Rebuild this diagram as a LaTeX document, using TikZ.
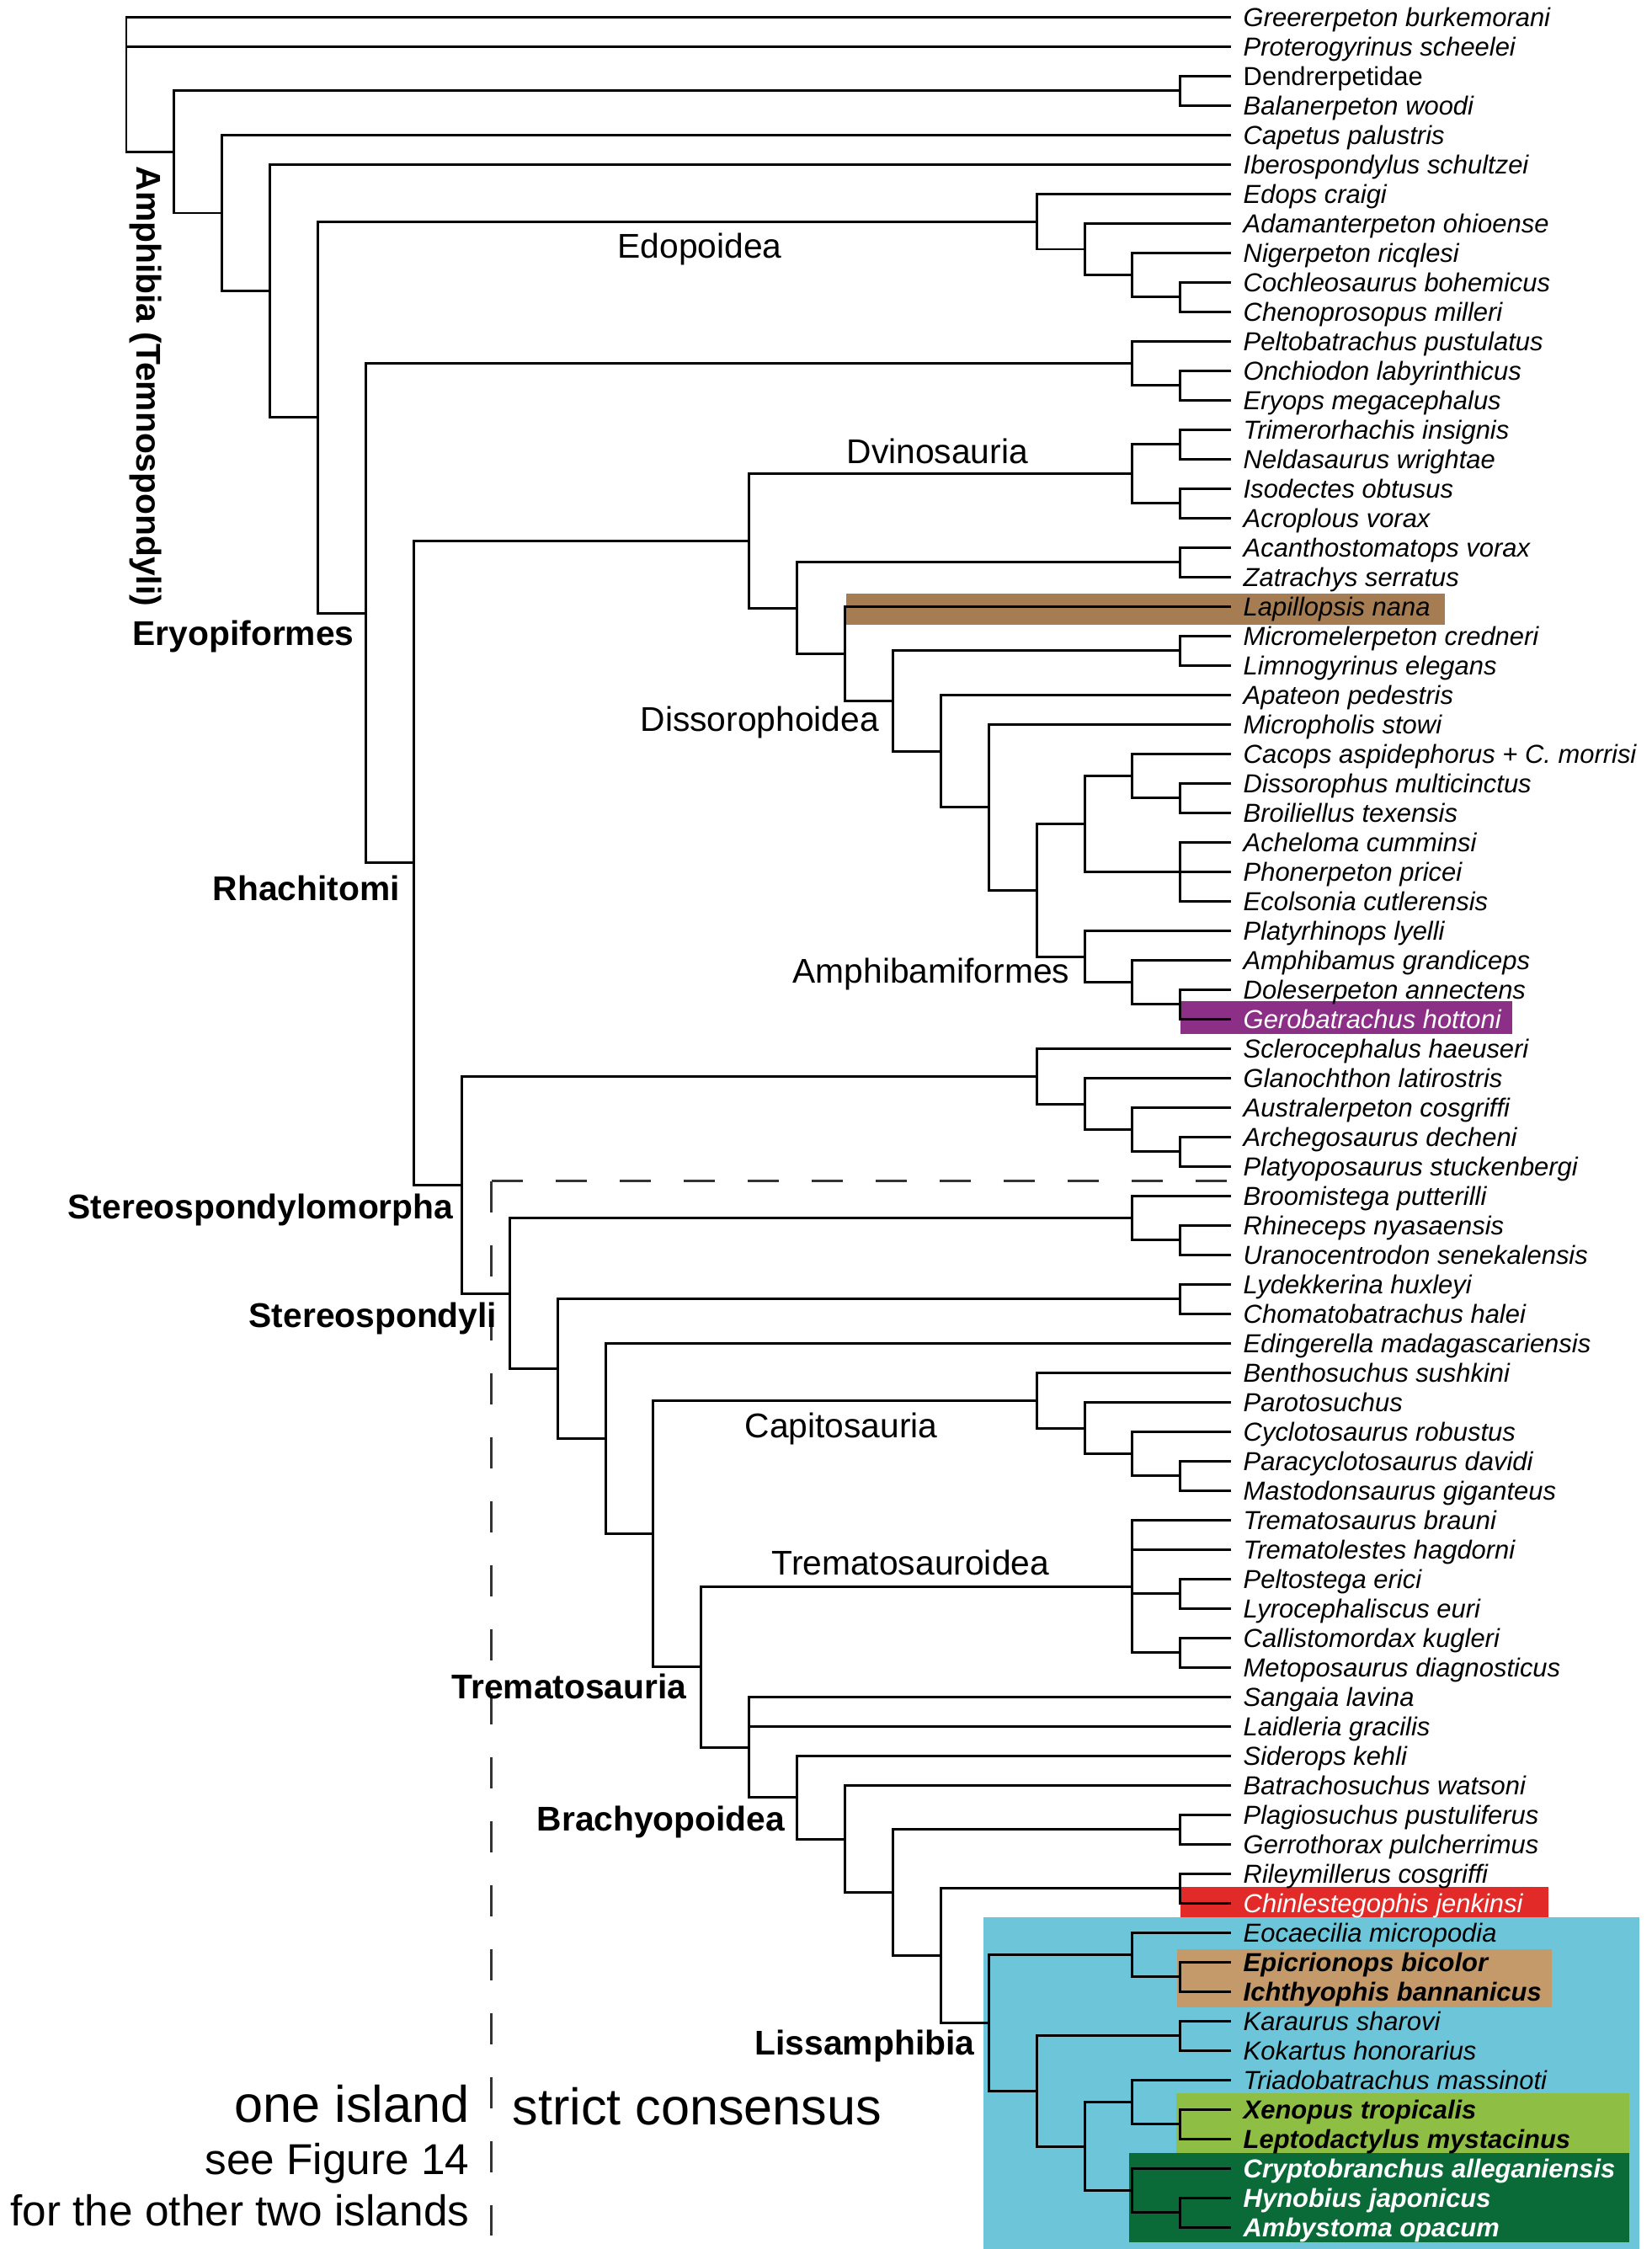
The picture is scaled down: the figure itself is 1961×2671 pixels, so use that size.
\documentclass[tikz,border=0pt]{standalone}
\usepackage{fontspec}
\setmainfont{Liberation Sans}
\definecolor{cbrown}{HTML}{A67C52}
\definecolor{cpurple}{HTML}{8C2F86}
\definecolor{cred}{HTML}{E22B28}
\definecolor{ccyan}{HTML}{6CC5D8}
\definecolor{ctan}{HTML}{C49A6B}
\definecolor{clgreen}{HTML}{8FBE44}
\definecolor{cdgreen}{HTML}{0A6B39}
\newcommand\taxon[3]{\node[leaf,#2] (l#1) at (1460,{20.4+35*(#1-1)}) {#3};}
\begin{document}
\begin{tikzpicture}[x=0.1mm,y=-0.1mm,
  br/.style={line width=0.85pt,line cap=rect},
  leaf/.style={anchor=west,inner xsep=1.6mm,inner ysep=0pt,text height=6.3pt,text depth=0pt,font=\fontsize{8.8}{10}\selectfont\itshape},
  up/.style={font=\fontsize{8.8}{10}\selectfont},
  bi/.style={font=\fontsize{8.8}{10}\selectfont\bfseries\itshape},
  clade/.style={inner sep=0pt,font=\fontsize{11.6}{13}\selectfont},
  cladeb/.style={inner sep=0pt,font=\fontsize{11.6}{13}\selectfont\bfseries},
  dsh/.style={line width=0.85pt,black!80,dash pattern=on 3.7mm off 3.9mm},
  big/.style={inner sep=0pt,font=\fontsize{17.4}{20}\selectfont},
  mid/.style={inner sep=0pt,font=\fontsize{14.6}{17}\selectfont}]
\useasboundingbox (0,0) rectangle (1961,2671);
% highlight boxes
\fill[cbrown] (1005,705) rectangle (1716,742);
\fill[cpurple] (1402,1189) rectangle (1796,1228);
\fill[cred] (1402,2241) rectangle (1839,2277);
\fill[ccyan] (1168,2277) rectangle (1947,2671);
\fill[ctan] (1398,2315) rectangle (1843,2384);
\fill[clgreen] (1397,2486) rectangle (1935,2557);
\fill[cdgreen] (1341,2557) rectangle (1935,2663);
% leaves
\taxon{1}{}{Greererpeton burkemorani}
\taxon{2}{}{Proterogyrinus scheelei}
\taxon{3}{up}{Dendrerpetidae}
\taxon{4}{}{Balanerpeton woodi}
\taxon{5}{}{Capetus palustris}
\taxon{6}{}{Iberospondylus schultzei}
\taxon{7}{}{Edops craigi}
\taxon{8}{}{Adamanterpeton ohioense}
\taxon{9}{}{Nigerpeton ricqlesi}
\taxon{10}{}{Cochleosaurus bohemicus}
\taxon{11}{}{Chenoprosopus milleri}
\taxon{12}{}{Peltobatrachus pustulatus}
\taxon{13}{}{Onchiodon labyrinthicus}
\taxon{14}{}{Eryops megacephalus}
\taxon{15}{}{Trimerorhachis insignis}
\taxon{16}{}{Neldasaurus wrightae}
\taxon{17}{}{Isodectes obtusus}
\taxon{18}{}{Acroplous vorax}
\taxon{19}{}{Acanthostomatops vorax}
\taxon{20}{}{Zatrachys serratus}
\taxon{21}{}{Lapillopsis nana}
\taxon{22}{}{Micromelerpeton credneri}
\taxon{23}{}{Limnogyrinus elegans}
\taxon{24}{}{Apateon pedestris}
\taxon{25}{}{Micropholis stowi}
\taxon{26}{}{Cacops aspidephorus + C. morrisi}
\taxon{27}{}{Dissorophus multicinctus}
\taxon{28}{}{Broiliellus texensis}
\taxon{29}{}{Acheloma cumminsi}
\taxon{30}{}{Phonerpeton pricei}
\taxon{31}{}{Ecolsonia cutlerensis}
\taxon{32}{}{Platyrhinops lyelli}
\taxon{33}{}{Amphibamus grandiceps}
\taxon{34}{}{Doleserpeton annectens}
\taxon{35}{text=white}{Gerobatrachus hottoni}
\taxon{36}{}{Sclerocephalus haeuseri}
\taxon{37}{}{Glanochthon latirostris}
\taxon{38}{}{Australerpeton cosgriffi}
\taxon{39}{}{Archegosaurus decheni}
\taxon{40}{}{Platyoposaurus stuckenbergi}
\taxon{41}{}{Broomistega putterilli}
\taxon{42}{}{Rhineceps nyasaensis}
\taxon{43}{}{Uranocentrodon senekalensis}
\taxon{44}{}{Lydekkerina huxleyi}
\taxon{45}{}{Chomatobatrachus halei}
\taxon{46}{}{Edingerella madagascariensis}
\taxon{47}{}{Benthosuchus sushkini}
\taxon{48}{}{Parotosuchus}
\taxon{49}{}{Cyclotosaurus robustus}
\taxon{50}{}{Paracyclotosaurus davidi}
\taxon{51}{}{Mastodonsaurus giganteus}
\taxon{52}{}{Trematosaurus brauni}
\taxon{53}{}{Trematolestes hagdorni}
\taxon{54}{}{Peltostega erici}
\taxon{55}{}{Lyrocephaliscus euri}
\taxon{56}{}{Callistomordax kugleri}
\taxon{57}{}{Metoposaurus diagnosticus}
\taxon{58}{}{Sangaia lavina}
\taxon{59}{}{Laidleria gracilis}
\taxon{60}{}{Siderops kehli}
\taxon{61}{}{Batrachosuchus watsoni}
\taxon{62}{}{Plagiosuchus pustuliferus}
\taxon{63}{}{Gerrothorax pulcherrimus}
\taxon{64}{}{Rileymillerus cosgriffi}
\taxon{65}{text=white}{Chinlestegophis jenkinsi}
\taxon{66}{}{Eocaecilia micropodia}
\taxon{67}{bi}{Epicrionops bicolor}
\taxon{68}{bi}{Ichthyophis bannanicus}
\taxon{69}{}{Karaurus sharovi}
\taxon{70}{}{Kokartus honorarius}
\taxon{71}{}{Triadobatrachus massinoti}
\taxon{72}{bi}{Xenopus tropicalis}
\taxon{73}{bi}{Leptodactylus mystacinus}
\taxon{74}{bi,text=white}{Cryptobranchus alleganiensis}
\taxon{75}{bi,text=white}{Hynobius japonicus}
\taxon{76}{bi,text=white}{Ambystoma opacum}
% internal nodes
\coordinate (root) at (150,100.4);
\coordinate (N1) at (206.9,180.45);
\coordinate (D1) at (1401.8,107.9);
\coordinate (N2) at (263.8,253.0);
\coordinate (N3) at (320.7,345.55);
\coordinate (N4) at (377.6,495.7);
\coordinate (E1) at (1231.1,263.2);
\coordinate (E2) at (1288,296.0);
\coordinate (E3) at (1344.9,326.65);
\coordinate (E4) at (1401.8,352.9);
\coordinate (N5) at (434.5,728.2);
\coordinate (P1) at (1344.9,431.65);
\coordinate (P2) at (1401.8,457.9);
\coordinate (N6) at (491.4,1024.9);
\coordinate (X1) at (889.7,642.5);
\coordinate (V0) at (1344.9,562.9);
\coordinate (V1) at (1401.8,527.9);
\coordinate (V2) at (1401.8,597.9);
\coordinate (X2) at (946.6,722.2);
\coordinate (A1) at (1401.8,667.9);
\coordinate (X3) at (1003.5,776.5);
\coordinate (X4) at (1060.4,832.5);
\coordinate (M1) at (1401.8,772.9);
\coordinate (X5) at (1117.3,892.1);
\coordinate (X6) at (1174.2,958.9);
\coordinate (X7) at (1231.1,1057.3);
\coordinate (Y1) at (1288,978.5);
\coordinate (Z1) at (1344.9,921.65);
\coordinate (Z1b) at (1401.8,947.9);
\coordinate (Z2) at (1401.8,1035.4);
\coordinate (Y2) at (1288,1136.0);
\coordinate (Y3) at (1344.9,1166.65);
\coordinate (Y4) at (1401.8,1192.9);
\coordinate (N7) at (548.3,1407.2);
\coordinate (S1) at (1231.1,1278.2);
\coordinate (S2) at (1288,1311.0);
\coordinate (S3) at (1344.9,1341.65);
\coordinate (S4) at (1401.8,1367.9);
\coordinate (N8) at (605.2,1536.15);
\coordinate (B1) at (1344.9,1446.65);
\coordinate (B2) at (1401.8,1472.9);
\coordinate (N9) at (662.1,1625.65);
\coordinate (Ly) at (1401.8,1542.9);
\coordinate (N10) at (719,1708.4);
\coordinate (N11) at (775.9,1821.4);
\coordinate (C1) at (1231.1,1663.2);
\coordinate (C2) at (1288,1696.0);
\coordinate (C3) at (1344.9,1726.65);
\coordinate (C4) at (1401.8,1752.9);
\coordinate (N12) at (832.8,1979.6);
\coordinate (T1) at (1344.9,1884.15);
\coordinate (T2) at (1401.8,1892.9);
\coordinate (T3) at (1401.8,1962.9);
\coordinate (N13) at (889.7,2075.1);
\coordinate (N14) at (946.6,2134.75);
\coordinate (N15) at (1003.5,2184.1);
\coordinate (N16) at (1060.4,2247.8);
\coordinate (G1) at (1401.8,2172.9);
\coordinate (N17) at (1117.3,2322.75);
\coordinate (R1) at (1401.8,2242.9);
\coordinate (N18) at (1174.2,2402.6);
\coordinate (K1) at (1344.9,2321.65);
\coordinate (K1b) at (1401.8,2347.9);
\coordinate (K2) at (1231.1,2483.5);
\coordinate (K3) at (1401.8,2417.9);
\coordinate (K4) at (1288,2549.15);
\coordinate (K5) at (1344.9,2496.65);
\coordinate (K5b) at (1401.8,2522.9);
\coordinate (K6) at (1344.9,2601.65);
\coordinate (K6b) at (1401.8,2627.9);
% branches
\foreach \p/\c in {root/l1.west,root/l2.west,root/N1,
 N1/D1,N1/N2,D1/l3.west,D1/l4.west,
 N2/l5.west,N2/N3,N3/l6.west,N3/N4,
 N4/E1,N4/N5,E1/l7.west,E1/E2,E2/l8.west,E2/E3,E3/l9.west,E3/E4,E4/l10.west,E4/l11.west,
 N5/P1,N5/N6,P1/l12.west,P1/P2,P2/l13.west,P2/l14.west,
 N6/X1,N6/N7,X1/V0,X1/X2,V0/V1,V0/V2,V1/l15.west,V1/l16.west,V2/l17.west,V2/l18.west,
 X2/A1,X2/X3,A1/l19.west,A1/l20.west,X3/l21.west,X3/X4,X4/M1,X4/X5,M1/l22.west,M1/l23.west,
 X5/l24.west,X5/X6,X6/l25.west,X6/X7,X7/Y1,X7/Y2,Y1/Z1,Y1/Z2,Z1/l26.west,Z1/Z1b,Z1b/l27.west,Z1b/l28.west,
 Z2/l29.west,Z2/l30.west,Z2/l31.west,
 Y2/l32.west,Y2/Y3,Y3/l33.west,Y3/Y4,Y4/l34.west,Y4/l35.west,
 N7/S1,N7/N8,S1/l36.west,S1/S2,S2/l37.west,S2/S3,S3/l38.west,S3/S4,S4/l39.west,S4/l40.west,
 N8/B1,N8/N9,B1/l41.west,B1/B2,B2/l42.west,B2/l43.west,
 N9/Ly,N9/N10,Ly/l44.west,Ly/l45.west,N10/l46.west,N10/N11,
 N11/C1,N11/N12,C1/l47.west,C1/C2,C2/l48.west,C2/C3,C3/l49.west,C3/C4,C4/l50.west,C4/l51.west,
 N12/T1,N12/N13,T1/l52.west,T1/l53.west,T1/T2,T1/T3,T2/l54.west,T2/l55.west,T3/l56.west,T3/l57.west,
 N13/l58.west,N13/l59.west,N13/N14,N14/l60.west,N14/N15,N15/l61.west,N15/N16,
 N16/G1,N16/N17,G1/l62.west,G1/l63.west,
 N17/R1,N17/N18,R1/l64.west,R1/l65.west,N18/K1,N18/K2,K1/l66.west,K1/K1b,K1b/l67.west,K1b/l68.west,
 K2/K3,K2/K4,K3/l69.west,K3/l70.west,K4/K5,K4/K6,K5/l71.west,K5/K5b,K5b/l72.west,K5b/l73.west,
 K6/l74.west,K6/K6b,K6b/l75.west,K6b/l76.west}
 {\draw[br] (\p) |- (\c);}
% dashed island line
\coordinate (dc) at (583.6,1402.7);
\coordinate (dh) at (1460,1402.7);
\coordinate (dv) at (583.6,2655);
\draw[dsh] (dc) -- (dh);
\draw[dsh] (dc) -- (dv);
% clade labels
\node[clade,anchor=base west] (edo) at (733,307) {Edopoidea};
\node[clade,anchor=base west] (dvi) at (1005,550) {Dvinosauria};
\node[clade,anchor=base west] (dis) at (760,868) {Dissorophoidea};
\node[clade,anchor=base west] (amb) at (941,1167) {Amphibamiformes};
\node[clade,anchor=base west] (cap) at (884,1707) {Capitosauria};
\node[clade,anchor=base west] (tre) at (916,1870) {Trematosauroidea};
\node[cladeb,rotate=-90,anchor=base west] (amp) at (162,197) {Amphibia (Temnospondyli)};
\node[cladeb,anchor=base west] (ery) at (157,766) {Eryopiformes};
\node[cladeb,anchor=base west] (rha) at (252,1069) {Rhachitomi};
\node[cladeb,anchor=base east] (ssm) at (539,1447) {Stereospondylomorpha};
\node[cladeb,anchor=base west] (ssp) at (295,1576) {Stereospondyli};
\node[cladeb,anchor=base west] (trm) at (536,2017) {Trematosauria};
\node[cladeb,anchor=base west] (bra) at (637,2174) {Brachyopoidea};
\node[cladeb,anchor=base west] (lis) at (896,2440) {Lissamphibia};
% legend
\node[big,anchor=base east] (isl) at (558,2520) {one island};
\node[mid,anchor=base east] (fig) at (558,2582) {see Figure 14};
\node[mid,anchor=base east] (oth) at (558,2643) {for the other two islands};
\node[big,anchor=base west] (sc) at (608,2523) {strict consensus};
\end{tikzpicture}
\end{document}
